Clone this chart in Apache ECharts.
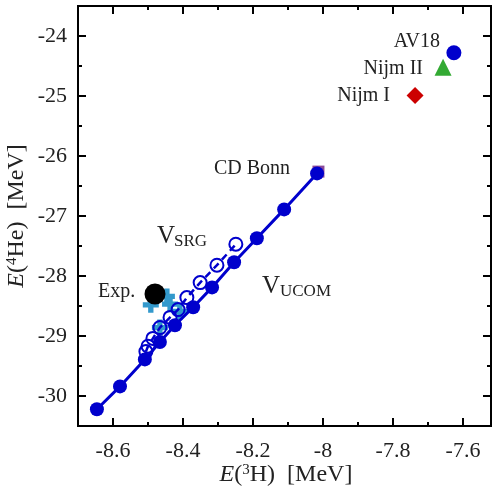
<!DOCTYPE html>
<html><head><meta charset="utf-8">
<script src="https://cdn.jsdelivr.net/npm/echarts@6/dist/echarts.min.js"></script>
<style>html,body{margin:0;padding:0;background:#fff}#c{width:492px;height:489px}</style>
</head><body><div id="c"></div>
<script>
// V_UCOM (solid line, filled circles): [E(3H), E(4He)]
const ucomX = [-8.646, -8.58, -8.509, -8.466, -8.423, -8.371, -8.317, -8.254, -8.189, -8.111, -8.017];
const ucomY = [-30.22, -29.84, -29.39, -29.10, -28.82, -28.52, -28.19, -27.77, -27.37, -26.89, -26.29];
// V_SRG (dashed line, open circles)
const srgX = [-8.506, -8.50, -8.486, -8.466, -8.437, -8.414, -8.389, -8.351, -8.303, -8.249];
const srgY = [-29.26, -29.17, -29.04, -28.86, -28.69, -28.56, -28.36, -28.11, -27.82, -27.47];
// light-blue crosses
const crossX = [-8.492, -8.446, -8.437, -8.409, -8.466];
const crossY = [-28.48, -28.34, -28.47, -28.59, -28.86];
// single potentials
const av18 = [-7.626, -24.28];
const nijm2 = [-7.657, -24.52];
const nijm1 = [-7.737, -24.99];
const cdBonn = [-8.013, -26.26];
const expPt = [-8.48, -28.30];
// ticks
const xMajor = [-8.6, -8.4, -8.2, -8.0, -7.8, -7.6];
const xMinor = [-8.7, -8.5, -8.3, -8.1, -7.9, -7.7];
const yMajor = [-30, -29, -28, -27, -26, -25, -24];
const yMinor = [-30.5, -29.5, -28.5, -27.5, -26.5, -25.5, -24.5];

const zip = (a, b) => a.map((v, i) => [v, b[i]]);
const FONT = 'Liberation Serif';
const BLUE = '#0000cc';

function xAx(pos, vals, len, labels) {
  return {
    type: 'value', position: pos, min: -8.7, max: -7.52,
    axisLine: { show: true, onZero: false, lineStyle: { color: '#000', width: 2 } },
    axisTick: { show: true, inside: true, length: len, customValues: vals, lineStyle: { color: '#000', width: 2 } },
    axisLabel: labels ? { show: true, customValues: vals, margin: 14, fontFamily: FONT, fontSize: 22, color: '#222',
      formatter: v => String(+(+v).toFixed(1)) } : { show: false },
    splitLine: { show: false }
  };
}
function yAx(pos, vals, len, labels) {
  return {
    type: 'value', position: pos, min: -30.5, max: -23.5,
    axisLine: { show: true, onZero: false, lineStyle: { color: '#000', width: 2 } },
    axisTick: { show: true, inside: true, length: len, customValues: vals, lineStyle: { color: '#000', width: 2 } },
    axisLabel: labels ? { show: true, customValues: vals, margin: 11, fontFamily: FONT, fontSize: 22, color: '#222',
      formatter: v => String(+(+v).toFixed(1)) } : { show: false },
    splitLine: { show: false }
  };
}

const chart = echarts.init(document.getElementById('c'), null, { renderer: 'canvas' });
const txt = (x, y, text, size, align) => ({
  type: 'text', x: x, y: y, z: 100,
  style: { text: text, fontFamily: FONT, fontSize: size, fill: '#222', align: align || 'left', verticalAlign: 'middle' }
});
const titleRich = {
  i: { fontFamily: FONT, fontSize: 24, fontStyle: 'italic', fill: '#222' },
  n: { fontFamily: FONT, fontSize: 24, fill: '#222' },
  s: { fontFamily: FONT, fontSize: 15, fill: '#222', verticalAlign: 'top' }
};
chart.setOption({
  animation: false,
  grid: { left: 78, right: 1, top: 6, bottom: 63 },
  xAxis: [xAx('bottom', xMajor, 8, true), xAx('bottom', xMinor, 4, false), xAx('top', xMajor, 8, false), xAx('top', xMinor, 4, false)],
  yAxis: [yAx('left', yMajor, 8, true), yAx('left', yMinor, 4, false), yAx('right', yMajor, 8, false), yAx('right', yMinor, 4, false)],
  series: [
    { type: 'scatter', data: zip(crossX, crossY), symbol: 'path://M1,0H2V1H3V2H2V3H1V2H0V1H1Z', symbolSize: 16,
      itemStyle: { color: '#3399cc', opacity: 1 }, z: 2 },
    { type: 'line', data: zip(ucomX, ucomY), symbol: 'circle', symbolSize: 14, showSymbol: true,
      lineStyle: { color: BLUE, width: 3 }, itemStyle: { color: BLUE, borderWidth: 0, opacity: 1 }, z: 3 },
    { type: 'line', data: zip(srgX, srgY), symbol: 'circle', symbolSize: 13, showSymbol: true,
      lineStyle: { color: BLUE, width: 2.5, type: [7, 5] }, itemStyle: { color: 'rgba(255,255,255,0)', borderColor: BLUE, borderWidth: 2, opacity: 1 }, z: 4 },
    { type: 'scatter', data: [cdBonn], symbol: 'rect', symbolSize: 12, itemStyle: { color: '#8a4a9a', opacity: 1 }, z: 1 },
    { type: 'scatter', data: [av18], symbol: 'circle', symbolSize: 15, itemStyle: { color: BLUE, opacity: 1 }, z: 5 },
    { type: 'scatter', data: [nijm2], symbol: 'triangle', symbolSize: 17, itemStyle: { color: '#33aa33', opacity: 1 }, z: 5 },
    { type: 'scatter', data: [nijm1], symbol: 'diamond', symbolSize: 17, itemStyle: { color: '#cc0000', opacity: 1 }, z: 5 },
    { type: 'scatter', data: [expPt], symbol: 'circle', symbolSize: 21, itemStyle: { color: '#000', opacity: 1 }, z: 6 }
  ],
  graphic: [
    txt(440, 42, 'AV18', 20, 'right'),
    txt(423, 69, 'Nijm II', 20, 'right'),
    txt(390, 96, 'Nijm I', 20, 'right'),
    txt(214, 169, 'CD Bonn', 20),
    txt(98, 292, 'Exp.', 20),
    txt(157, 236, 'V', 25),
    txt(174, 242, 'SRG', 17),
    txt(262, 286, 'V', 25),
    txt(280, 292, 'UCOM', 17),
    { type: 'text', x: 286, y: 475, z: 100,
      style: { text: '{i|E}{n|(}{s|3}{n|H)  [MeV]}', align: 'center', verticalAlign: 'middle', rich: titleRich } },
    { type: 'text', x: 17, y: 216, rotation: Math.PI / 2, z: 100,
      style: { text: '{i|E}{n|(}{s|4}{n|He)  [MeV]}', align: 'center', verticalAlign: 'middle', rich: titleRich } }
  ]
});
</script></body></html>
